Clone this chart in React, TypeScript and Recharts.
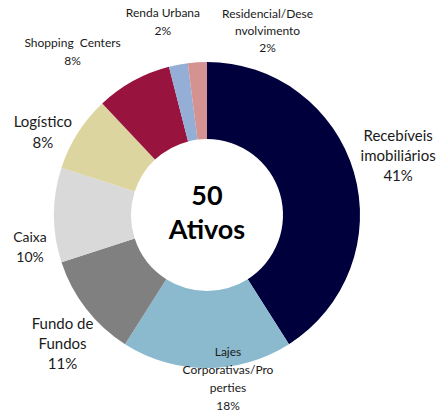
import React from 'react';
import { PieChart, Pie, Cell } from 'recharts';

// categorias (ordem horária a partir das 12h)
const categories = [
  'Recebíveis imobiliários',
  'Lajes Corporativas/Properties',
  'Fundo de Fundos',
  'Caixa',
  'Logístico',
  'Shopping Centers',
  'Renda Urbana',
  'Residencial/Desenvolvimento',
];
// quebras de linha como no gráfico original
const labelLines = [
  ['Recebíveis', 'imobiliários'],
  ['Lajes', 'Corporativas/Pro', 'perties'],
  ['Fundo de', 'Fundos'],
  ['Caixa'],
  ['Logístico'],
  ['Shopping  Centers'],
  ['Renda Urbana'],
  ['Residencial/Dese', 'nvolvimento'],
];
const shares = [41, 18, 11, 10, 8, 8, 2, 2];
const centerLines = ['50', 'Ativos'];

const COLORS = ['#00003c', '#8bb9ce', '#808080', '#d9d9d9', '#ddd59f', '#98143e', '#95aed5', '#d49292'];
// ajustes finos das etiquetas (dx, dy), tamanho da fonte e altura da linha
const LABEL_NUDGE = [[1, -5], [21, -35], [12, 7], [21, 31], [3, 23], [-39, 10], [-7, 0], [73, 13]];
const LABEL_FONT = [15, 12, 15, 14, 15, 12, 12, 12];
const LABEL_LH = [20, 18, 20, 20, 21, 18, 18, 17];

const data = categories.map((name, i) => ({ name, value: shares[i] }));

const FONT = 'Lato, "Open Sans", sans-serif';
const RAD = Math.PI / 180;

const renderLabel = (props: any) => {
  const { cx, cy, midAngle, outerRadius, index } = props;
  const r = outerRadius + 45;
  const x = cx + r * Math.cos(-midAngle * RAD) + LABEL_NUDGE[index][0];
  const y = cy + r * Math.sin(-midAngle * RAD) + LABEL_NUDGE[index][1];
  const lines = [...labelLines[index], `${shares[index]}%`];
  const lh = LABEL_LH[index];
  const top = y - ((lines.length - 1) * lh) / 2;
  return (
    <text
      x={x}
      y={top}
      textAnchor="middle"
      dominantBaseline="central"
      fontFamily={FONT}
      fontSize={LABEL_FONT[index]}
      fill="#1a1a1a"
      style={{ whiteSpace: 'pre' }}
    >
      {lines.map((l, k) => (
        <tspan key={k} x={x} y={top + k * lh}>
          {l}
        </tspan>
      ))}
    </text>
  );
};

export default function App() {
  return (
    <div style={{ position: 'absolute', left: 0, top: 0, width: 441, height: 416, background: '#fff' }}>
      <PieChart width={441} height={416} margin={{ top: 0, right: 0, bottom: 0, left: 0 }}>
        <Pie
          data={data}
          dataKey="value"
          cx={207}
          cy={215}
          innerRadius={76}
          outerRadius={153}
          startAngle={90}
          endAngle={-270}
          stroke="none"
          label={renderLabel}
          labelLine={false}
          isAnimationActive={false}
        >
          {data.map((d, i) => (
            <Cell key={d.name} fill={COLORS[i]} />
          ))}
        </Pie>
      </PieChart>
      <div
        style={{
          position: 'absolute',
          left: 207 - 60,
          top: 178,
          width: 120,
          textAlign: 'center',
          fontFamily: FONT,
          fontWeight: 'bold',
          fontSize: 27,
          lineHeight: '34px',
          color: '#000',
        }}
      >
        {centerLines.map((l) => (
          <div key={l}>{l}</div>
        ))}
      </div>
    </div>
  );
}
